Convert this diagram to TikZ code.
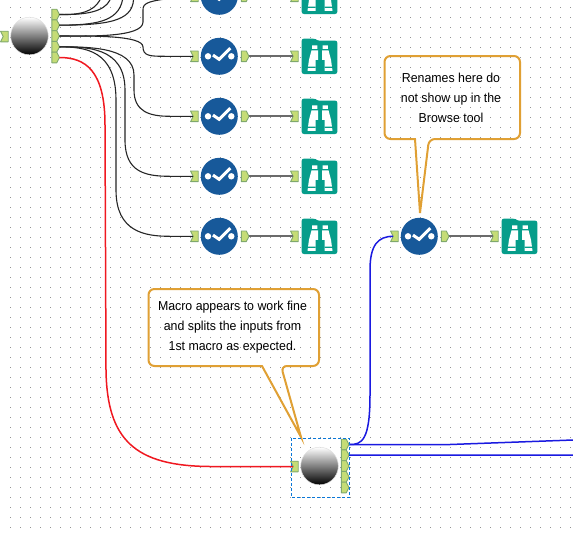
\documentclass[tikz,border=0pt]{standalone}
\usepackage{fontspec}
\setmainfont[FakeStretch=0.95]{Liberation Sans}
\definecolor{portfill}{HTML}{C5DC76}
\definecolor{portline}{HTML}{7FA86E}
\definecolor{toolblue}{HTML}{17599A}
\definecolor{teal}{HTML}{069D8A}
\definecolor{noteline}{HTML}{E0A034}
\definecolor{wirered}{HTML}{F01820}
\definecolor{wireblue}{HTML}{1A1AE0}
\definecolor{selblue}{HTML}{0A78D8}
\tikzset{
  portshape/.style={fill=portfill,draw=portline,line width=0.9pt,line join=round},
  wire/.style={line width=1.1pt,black!85},
  straightwire/.style={line width=1.8pt,black!58},
  redwire/.style={line width=1.5pt,wirered},
  bluewire/.style={line width=1.5pt,wireblue},
  notebox/.style={draw=noteline,line width=2pt,line join=miter},
  notetext/.style={align=center,inner sep=0pt,font=\fontsize{13}{20}\selectfont,text=black}
}
% name, x, y : input port; the wire ends in its notch
\newcommand{\inport}[3]{%
  \draw[portshape,shift={(#2,#3)}] (-3.9,-5.3) -- (3.7,-5.3) -- (3.7,5.3) -- (-3.9,5.3) -- (-1.3,0) -- cycle;
  \coordinate (#1) at (#2-1.3,#3);}
% name, x, y : output port; the wire starts at its tip
\newcommand{\outport}[3]{%
  \draw[portshape,shift={(#2,#3)}] (-3.7,-5.3) -- (1.3,-5.3) -- (4,0) -- (1.3,5.3) -- (-3.7,5.3) -- cycle;
  \coordinate (#1) at (#2+4,#3);}
% name, x, y : check tool
\newcommand{\checktool}[3]{%
  \node[circle,fill=toolblue,minimum size=37pt,inner sep=0pt] (#1) at (#2,#3) {};
  \begin{scope}[shift={(#2,#3)}]
    \fill[white] (-11.3,0) circle (3.2) (12,0) circle (3.2);
    \draw[white,line width=3pt] (-6.3,-1.2) -- (-0.2,3) -- (11,-8.2);
  \end{scope}}
% name, x, y : browse tool
\newcommand{\browsetool}[3]{%
  \begin{scope}[shift={(#2,#3)}]
    \fill[teal,rounded corners=2.2pt] (-17.8,17.7) -- (-17.8,-17.7) -- (-4.5,-17.7) -- (-2.5,-15.7) -- (17.8,-15.7) -- (17.8,17.7) -- cycle;
    \fill[white] (-7.5,-11) rectangle (-2.2,-7.5) (3,-11) rectangle (8.3,-7.5);
    \fill[white] (-8,-6) -- (-1.5,-6) -- (-1.5,3.5) -- (-4,3.5) -- (-4,14.5) -- (-12,14.5) -- (-10.5,3.5) -- cycle;
    \fill[white] (9,-6) -- (2.5,-6) -- (2.5,3.5) -- (5,3.5) -- (5,14.5) -- (13,14.5) -- (11.5,3.5) -- cycle;
    \fill[teal] (-13,10.3) rectangle (-4,11.5) (5,10.3) rectangle (14,11.5);
  \end{scope}
  \coordinate (#1) at (#2,#3);}
% name, x, y : macro sphere
\newcommand{\spheretool}[3]{%
  \node[circle,minimum size=37.6pt,inner sep=0pt,top color=white,bottom color=black,draw=black!12,line width=0.5pt] (#1) at (#2,#3) {};}
\begin{document}
\begin{tikzpicture}[x=1pt,y=-1pt]
\useasboundingbox (0,0) rectangle (573,536);
\clip (0,0) rectangle (573,536);
\fill[white] (0,0) rectangle (573,536);
% grid of dots
\foreach \i in {1,...,57}{\foreach \j in {0,...,52}{
  \fill[black!42] (10*\i,10*\j+7) rectangle +(1,1);}}
% notes
\node[notetext] (noteA) at (232.5,327) {Macro appears to work fine\\and splits the inputs from\\1st macro as expected.};
\draw[notebox,rounded corners=6pt] (262,366) -- (148.5,366) -- (148.5,289) -- (319,289) -- (319,366) -- (281,366) [sharp corners] -- (301,437) -- cycle;
\node[notetext] (noteB) at (451,98) {Renames here do\\not show up in the\\Browse tool};
\draw[notebox,rounded corners=6pt] (415,139) -- (384.5,139) -- (384.5,56) -- (520,56) -- (520,139) -- (429,139) [sharp corners] -- (420,213) -- cycle;
% tools
\spheretool{macroA}{29.5}{36}
\spheretool{macroB}{319.5}{466}
\inport{ma}{4.5}{36.5}
\inport{mb}{294.5}{466.5}
\foreach \n/\y in {1/14.5,2/25.2,3/36,4/46.8,5/57.5}{\outport{ao\n}{55.5}{\y}}
\foreach \n/\y in {1/444.5,2/455.2,3/466,4/476.8,5/487.5}{\outport{bo\n}{345}{\y}}
\foreach \n/\y in {0/-3.7,1/56.3,2/116.3,3/176.3,4/236.3}{
  \checktool{chk\n}{219.3}{\y}
  \browsetool{brw\n}{319.5}{\y}
  \inport{ci\n}{194.5}{\y}
  \outport{co\n}{245}{\y}
  \inport{bi\n}{294.5}{\y}
  \draw[straightwire] (co\n) -- (bi\n);
}
\checktool{chkR}{419.3}{236.3}
\browsetool{brwR}{519.5}{236.3}
\inport{ciR}{394.5}{236.3}
\outport{coR}{445}{236.3}
\inport{biR}{494.5}{236.3}
\draw[straightwire] (coR) -- (biR);
% free wire ends at the picture's edge
\coordinate (t1) at (100,0);
\coordinate (t2) at (110,0);
\coordinate (t3) at (122.5,0);
\coordinate (t4) at (133.5,0);
\coordinate (e1) at (573,440);
\coordinate (e2) at (573,455);
% black wires
\draw[wire] (ao1) .. controls (80,15) and (93,12) .. (t1);
\draw[wire] (ao1) .. controls (85,15) and (104,12) .. (t2);
\draw[wire] (ao2) .. controls (95,25) and (118,22) .. (t3);
\draw[wire] (ao2) .. controls (105,25) and (132,22) .. (t4);
\draw[wire] (ao3) .. controls (85,36) and (143,38) .. (143,22) -- (143,10) .. controls (143,3) and (146,0) .. (ci0);
\draw[wire] (ao3) .. controls (90,36) and (143,35) .. (143,47) .. controls (143,56) and (150,56.3) .. (165,56.3) -- (ci1);
\draw[wire] (ao4) .. controls (85,47) and (134,46) .. (134,75) -- (134,90) .. controls (134,112) and (150,116.3) .. (170,116.3) -- (ci2);
\draw[wire] (ao4) .. controls (85,47) and (125,46) .. (125,90) -- (125,140) .. controls (125,172) and (145,176.3) .. (170,176.3) -- (ci3);
\draw[wire] (ao4) .. controls (85,47) and (116,50) .. (116,100) -- (116,190) .. controls (116,232) and (145,236.3) .. (170,236.3) -- (ci4);
% red wire
\draw[redwire] (ao5) .. controls (85,57.5) and (105,70) .. (105,125) -- (106,370) .. controls (107,440) and (135,466) .. (210,466.5) -- (mb);
% blue wires
\draw[bluewire] (bo1) .. controls (362,445) and (370,440) .. (370,395) -- (370,270) .. controls (370,245) and (378,236.3) .. (ciR);
\draw[bluewire] (bo1) -- (450,444.5) -- (e1);
\draw[bluewire] (bo2) -- (e2);
% selection frame
\draw[selblue,line width=1pt,densely dashed] (291,438) rectangle (349.5,497);
\end{tikzpicture}
\end{document}
